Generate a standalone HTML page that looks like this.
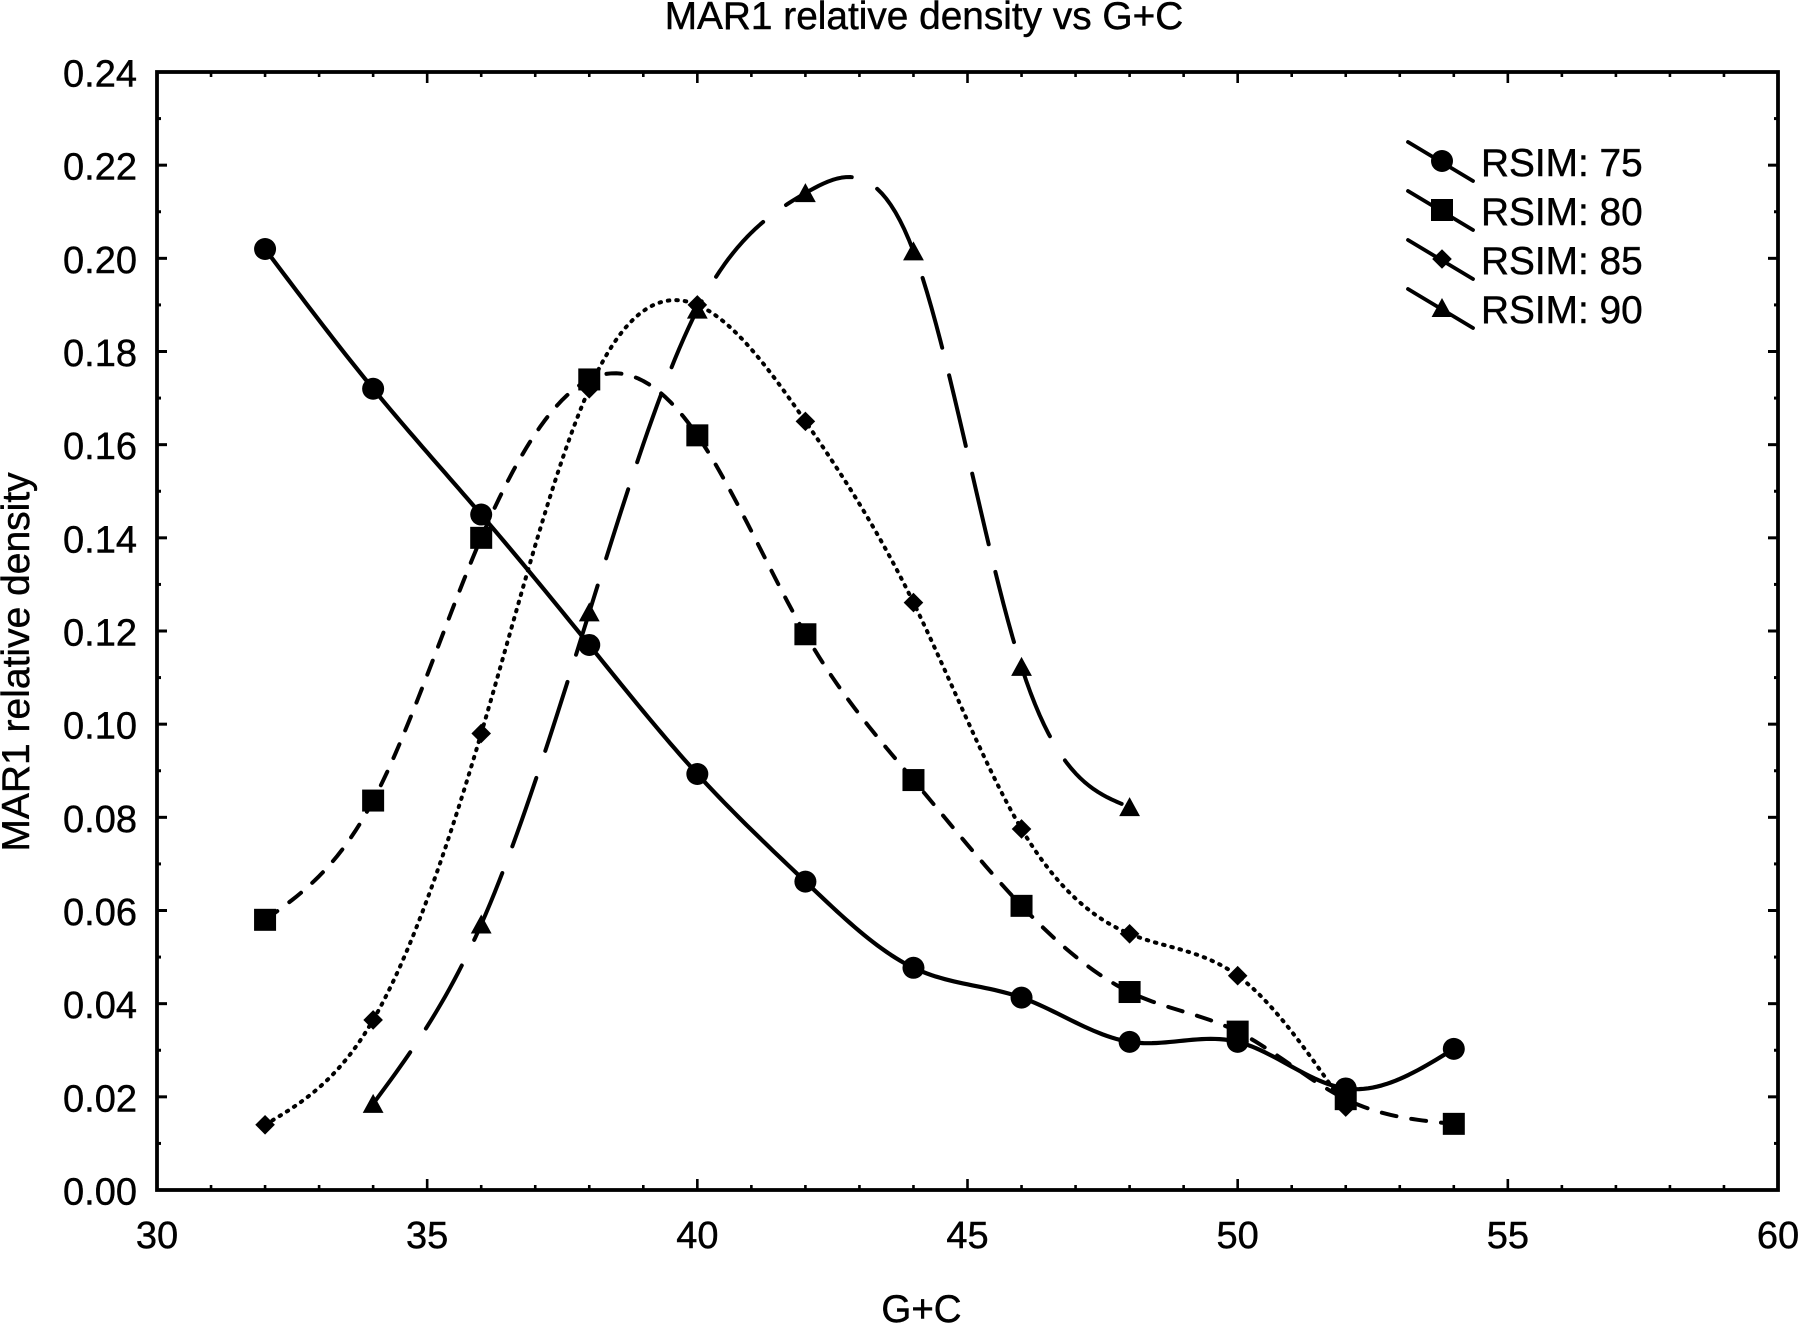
<!DOCTYPE html>
<html lang="en">
<head>
<meta charset="utf-8">
<title>MAR1 relative density vs G+C</title>
<style>
html,body{margin:0;padding:0;background:#fff;}
svg{display:block;}
text{font-family:"Liberation Sans",Arial,sans-serif;fill:#000;stroke:#000;stroke-width:0.45px;}
</style>
</head>
<body>
<svg id="chart" xmlns="http://www.w3.org/2000/svg" width="1800" height="1326" viewBox="0 0 1800 1326">
<rect x="0" y="0" width="1800" height="1326" fill="#fff"/>
<text x="924" y="29" font-size="38.8" text-anchor="middle">MAR1 relative density vs G+C</text>
<text transform="translate(29,662) rotate(-90)" font-size="39" text-anchor="middle">MAR1 relative density</text>
<text x="921.5" y="1322" font-size="38.5" text-anchor="middle">G+C</text>
<rect x="157" y="72" width="1621" height="1118" fill="none" stroke="#000" stroke-width="3.8"/>
<g id="ticks"></g>
<g id="series"></g>
<g id="legend"></g>
</svg>
<script>
const xTickLabels = ['30','35','40','45','50','55','60'];
const yTickLabels = ['0.00','0.02','0.04','0.06','0.08','0.10','0.12','0.14','0.16','0.18','0.20','0.22','0.24'];
const gcValues = [32,34,36,38,40,42,44,46,48,50,52,54];
const rsim75 = [0.2020,0.1720,0.1450,0.1170,0.0893,0.0662,0.0477,0.0413,0.0318,0.0318,0.0218,0.0303];
const rsim80 = [0.0580,0.0836,0.1400,0.1740,0.1620,0.1193,0.0880,0.0610,0.0425,0.0340,0.0195,0.0142];
const rsim85 = [0.0140,0.0365,0.0980,0.1720,0.1900,0.1650,0.1261,0.0775,0.0550,0.0460,0.0178];
const rsim90 = [null,0.0185,0.0570,0.1240,0.1890,0.2140,0.2015,0.1123,0.0822];
const legendLabels = ['RSIM: 75','RSIM: 80','RSIM: 85','RSIM: 90'];

const NS = 'http://www.w3.org/2000/svg';
const X0 = 157, X1 = 1778, Y0 = 1190, Y1 = 72;
const XMIN = 30, XMAX = 60, YMIN = 0, YMAX = 0.24;
function sx(v){ return X0 + (v - XMIN) / (XMAX - XMIN) * (X1 - X0); }
function sy(v){ return Y0 - (v - YMIN) / (YMAX - YMIN) * (Y0 - Y1); }
function mk(tag, attrs, parent){
  const el = document.createElementNS(NS, tag);
  for (const k in attrs) el.setAttribute(k, attrs[k]);
  parent.appendChild(el);
  return el;
}

/* axis ticks and labels */
const tickG = document.getElementById('ticks');
function tickLine(x1,y1,x2,y2,w){
  const l = mk('line',{x1:x1,y1:y1,x2:x2,y2:y2,stroke:'#000','stroke-width':w},tickG);
  
  
}
xTickLabels.forEach(function(lbl, i){
  const v = Number(lbl);
  const x = sx(v);
  if (i > 0 && i < xTickLabels.length - 1) {
    tickLine(x, Y0, x, Y0 - 11, 2.6);
    tickLine(x, Y1, x, Y1 + 11, 2.6);
  }
  if (i < xTickLabels.length - 1) {
    for (let m = 1; m < 5; m++) {
      tickLine(sx(v + m), Y0, sx(v + m), Y0 - 5, 2.6);
      tickLine(sx(v + m), Y1, sx(v + m), Y1 + 5, 2.6);
    }
  }
  const t = mk('text',{x:x,y:1248,'font-size':38,'text-anchor':'middle'},tickG);
  t.textContent = lbl;
  
  
});
yTickLabels.forEach(function(lbl, i){
  const v = Number(lbl);
  const y = sy(v);
  if (i > 0 && i < yTickLabels.length - 1) {
    tickLine(X0, y, X0 + 10, y, 3);
    tickLine(X1, y, X1 - 10, y, 3);
  }
  if (i < yTickLabels.length - 1) {
    const ym = sy(v + (Number(yTickLabels[1]) - Number(yTickLabels[0])) / 2);
    tickLine(X0, ym, X0 + 4, ym, 3);
    tickLine(X1, ym, X1 - 4, ym, 3);
  }
  const t = mk('text',{x:137,y:y + 14.5,'font-size':38,'text-anchor':'end'},tickG);
  t.textContent = lbl;
  
  
});

/* natural cubic spline through the data points */
function splinePath(xs, ys){
  const n = xs.length;
  const h = [], a = new Array(n).fill(0), b = new Array(n).fill(0), c = new Array(n).fill(0), d = new Array(n).fill(0);
  for (let i = 0; i < n - 1; i++) h[i] = xs[i + 1] - xs[i];
  b[0] = 1; b[n - 1] = 1;
  for (let i = 1; i < n - 1; i++) {
    a[i] = h[i - 1]; b[i] = 2 * (h[i - 1] + h[i]); c[i] = h[i];
    d[i] = 6 * ((ys[i + 1] - ys[i]) / h[i] - (ys[i] - ys[i - 1]) / h[i - 1]);
  }
  for (let i = 1; i < n; i++) {
    const w = a[i] / b[i - 1];
    b[i] -= w * c[i - 1];
    d[i] -= w * d[i - 1];
  }
  const m = new Array(n).fill(0);
  m[n - 1] = d[n - 1] / b[n - 1];
  for (let i = n - 2; i >= 0; i--) m[i] = (d[i] - c[i] * m[i + 1]) / b[i];
  let p = 'M' + sx(xs[0]).toFixed(2) + ' ' + sy(ys[0]).toFixed(2);
  for (let i = 0; i < n - 1; i++) {
    for (let s = 1; s <= 24; s++) {
      const t = s / 24 * h[i];
      const u = h[i] - t;
      const val = m[i] * u * u * u / (6 * h[i]) + m[i + 1] * t * t * t / (6 * h[i]) +
        (ys[i] / h[i] - m[i] * h[i] / 6) * u + (ys[i + 1] / h[i] - m[i + 1] * h[i] / 6) * t;
      p += 'L' + sx(xs[i] + t).toFixed(2) + ' ' + sy(val).toFixed(2);
    }
  }
  return p;
}

/* marker shapes */
function drawMarker(kind, cx, cy, parent, name){
  let el;
  if (kind === 'circle') el = mk('circle',{cx:cx,cy:cy,r:11,fill:'#000'},parent);
  else if (kind === 'square') el = mk('rect',{x:cx - 11,y:cy - 11,width:22,height:22,fill:'#000'},parent);
  else if (kind === 'diamond') el = mk('polygon',{points:(cx-9.8)+','+cy+' '+cx+','+(cy-9.8)+' '+(cx+9.8)+','+cy+' '+cx+','+(cy+9.8),fill:'#000'},parent);
  else el = mk('polygon',{points:(cx-10.4)+','+(cy+9)+' '+cx+','+(cy-10)+' '+(cx+10.4)+','+(cy+9),fill:'#000'},parent);
  
  
}

const seriesG = document.getElementById('series');
function drawSeries(values, kind, dash, cap, width, offset, key){
  const xs = [], ys = [];
  values.forEach(function(v, i){
    if (v !== null) { xs.push(gcValues[i]); ys.push(v); }
  });
  const line = mk('path',{d:splinePath(xs, ys),fill:'none',stroke:'#000','stroke-width':width,'stroke-linecap':cap,'stroke-linejoin':'round'},seriesG);
  if (dash) { line.setAttribute('stroke-dasharray', dash); line.setAttribute('stroke-dashoffset', offset); }
  
  
  xs.forEach(function(x, i){
    drawMarker(kind, sx(x), sy(ys[i]), seriesG, key + '-marker');
  });
}
drawSeries(rsim75, 'circle', '', 'round', 4.2, 0, 'rsim-75');
drawSeries(rsim80, 'square', '15 15', 'round', 4, 0, 'rsim-80');
drawSeries(rsim85, 'diamond', '1.5 7', 'round', 4, 0, 'rsim-85');
drawSeries(rsim90, 'triangle', '72.5 28.5', 'round', 4, 9, 'rsim-90');

/* legend */
const legendG = document.getElementById('legend');
const legendKinds = ['circle','square','diamond','triangle'];
legendLabels.forEach(function(lbl, i){
  const dy = i * 49;
  const row = mk('g',{},legendG);
  
  
  const l = mk('line',{x1:1408,y1:142 + dy,x2:1473,y2:181 + dy,stroke:'#000','stroke-width':3.8,'stroke-linecap':'round'},row);
  
  
  drawMarker(legendKinds[i], 1442, 161 + dy, row, 'legend-marker');
  const t = mk('text',{x:1481,y:176 + dy,'font-size':38.8},row);
  t.textContent = lbl;
  
  
});
</script>
</body>
</html>
